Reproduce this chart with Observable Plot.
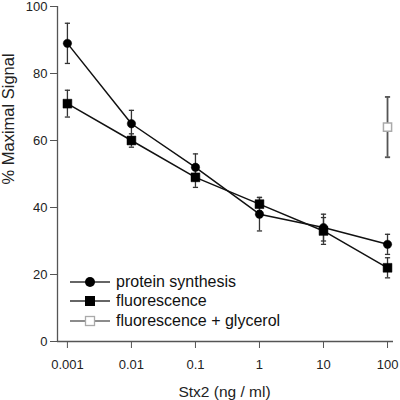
<!DOCTYPE html>
<html>
<head>
<meta charset="utf-8">
<script src="https://cdn.jsdelivr.net/npm/d3@7"></script>
<script src="https://cdn.jsdelivr.net/npm/@observablehq/plot@0.6"></script>
<style>
  html, body { margin: 0; padding: 0; background: #fff; }
  #wrap { position: relative; width: 400px; height: 400px; font-family: "Liberation Sans", Arial, sans-serif; }
  #legend { position: absolute; left: 70px; top: 272px; font-size: 16px; color: #111; }
  .row { display: flex; align-items: center; height: 19.5px; }
  .row svg { display: block; margin-right: 6px; }
</style>
</head>
<body>
<div id="wrap"><div id="chart"></div><div id="legend"></div></div>
<script>
// ---- data ----
const doses = [0.001, 0.01, 0.1, 1, 10, 100];            // Stx2 (ng / ml)
const proteinSynthesis = [89, 65, 52, 38, 34, 29];         // % maximal signal
const proteinSynthesisErr = [6, 4, 4, 5, 4, 3];
const fluorescence = [71, 60, 49, 41, 33, 22];
const fluorescenceErr = [4, 2, 3, 2, 4, 3];
const glycerolDoses = [100];
const fluorescenceGlycerol = [64];
const fluorescenceGlycerolErr = [9];
const xTicks = [0.001, 0.01, 0.1, 1, 10, 100];
const yTicks = [0, 20, 40, 60, 80, 100];
const xDomain = [0.0007, 124];
const yDomain = [0, 100];
const seriesNames = ["protein synthesis", "fluorescence", "fluorescence + glycerol"];

const mk = (xs, ys, es) => xs.map((x, i) => ({x, y: ys[i], lo: ys[i] - es[i], hi: ys[i] + es[i]}));
const ps = mk(doses, proteinSynthesis, proteinSynthesisErr);
const fl = mk(doses, fluorescence, fluorescenceErr);
const gl = mk(glycerolDoses, fluorescenceGlycerol, fluorescenceGlycerolErr);

const cap = {draw(ctx) { ctx.moveTo(-2.6, 0); ctx.lineTo(2.6, 0); }};

function errorBars(data, color, w) {
  return [
    Plot.ruleX(data, {x: "x", y1: "lo", y2: "hi", stroke: color, strokeWidth: w}),
    Plot.dot(data, {x: "x", y: "hi", symbol: cap, fill: "none", stroke: color, strokeWidth: w, r: 3}),
    Plot.dot(data, {x: "x", y: "lo", symbol: cap, fill: "none", stroke: color, strokeWidth: w, r: 3})
  ];
}

const chart = Plot.plot({
  width: 400,
  height: 400,
  marginLeft: 57,
  marginRight: 7,
  marginTop: 6,
  marginBottom: 59,
  style: {fontFamily: '"Liberation Sans", Arial, sans-serif', fontSize: "13px", background: "#fff"},
  x: {type: "log", domain: xDomain},
  y: {domain: yDomain},
  marks: [
    Plot.ruleX([xDomain[0]], {y1: yDomain[0], y2: yDomain[1], stroke: "#555", strokeWidth: 1.3}),
    Plot.ruleY([0], {stroke: "#555", strokeWidth: 1.3}),
    Plot.axisY({ticks: yTicks, tickSize: 7, tickPadding: 3, stroke: "#555", fill: "#222", label: null, fontSize: 13}),
    Plot.axisX({ticks: xTicks, tickFormat: d => String(d), tickSize: 7, tickPadding: 11, stroke: "#555", fill: "#222", label: null, fontSize: 13}),
    Plot.text(["Stx2 (ng / ml)"], {frameAnchor: "bottom", dy: 55, dx: -1, fontSize: 15.5, fill: "#222"}),
    Plot.text(["% Maximal Signal"], {frameAnchor: "left", rotate: -90, dx: -49, dy: 10.5, fontSize: 16.5, fill: "#222"}),
    Plot.line(ps, {x: "x", y: "y", stroke: "#111", strokeWidth: 1.5}),
    Plot.line(fl, {x: "x", y: "y", stroke: "#111", strokeWidth: 1.5}),
    ...errorBars(ps, "#333", 1.3),
    ...errorBars(fl, "#333", 1.3),
    ...errorBars(gl, "#555", 1.8),
    Plot.dot(ps, {x: "x", y: "y", symbol: "circle", r: 4.2, fill: "#000", stroke: "#000", strokeWidth: 0.5}),
    Plot.dot(fl, {x: "x", y: "y", symbol: "square", r: 5, fill: "#000", stroke: "#000", strokeWidth: 0.5}),
    Plot.dot(gl, {x: "x", y: "y", symbol: "square", r: 4.6, fill: "#fff", stroke: "#aaa", strokeWidth: 1.5})
  ]
});
document.getElementById("chart").appendChild(chart);

// legend
const sw = [
  `<line x1="0" x2="40" y1="8" y2="8" stroke="#333" stroke-width="1.5"/><circle cx="20" cy="8" r="5" fill="#000"/>`,
  `<line x1="0" x2="40" y1="8" y2="8" stroke="#333" stroke-width="1.5"/><rect x="15" y="3" width="10" height="10" fill="#000"/>`,
  `<line x1="0" x2="40" y1="8" y2="8" stroke="#666" stroke-width="1.5"/><rect x="15.5" y="3.5" width="9" height="9" fill="#fff" stroke="#aaa" stroke-width="1.3"/>`
];
const legend = document.getElementById("legend");
seriesNames.forEach((name, i) => {
  const row = document.createElement("div");
  row.className = "row";
  row.innerHTML = `<svg width="40" height="16">${sw[i]}</svg><span>${name}</span>`;
  legend.appendChild(row);
});
</script>
</body>
</html>
